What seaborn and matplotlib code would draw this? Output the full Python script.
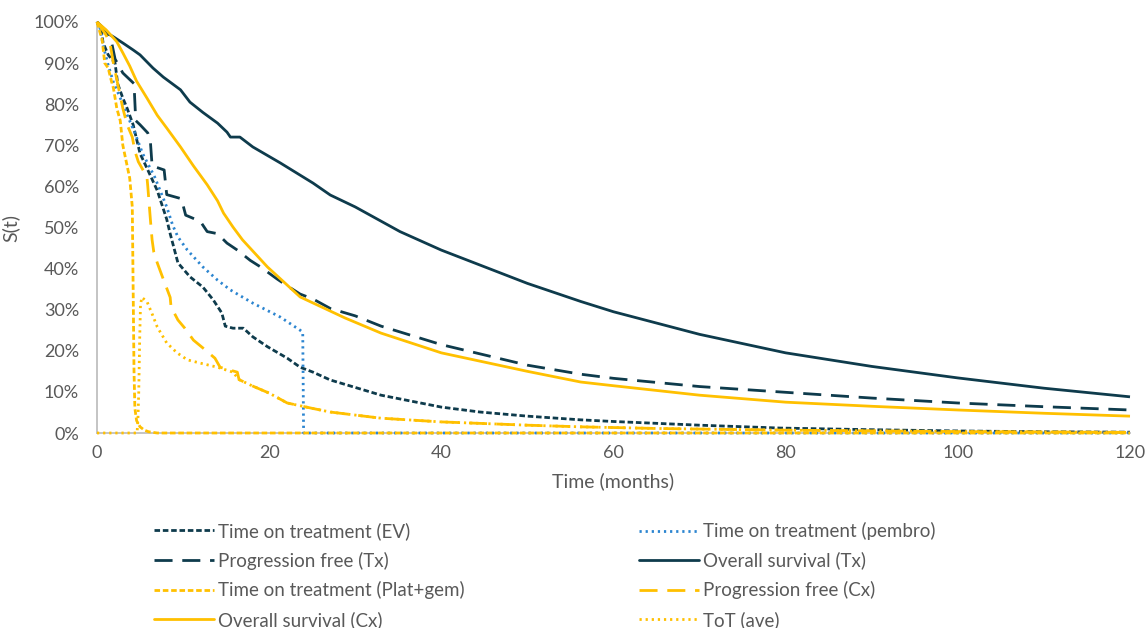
import matplotlib
matplotlib.use("Agg")
import matplotlib.pyplot as plt
import seaborn as sns
import pandas as pd
from matplotlib.lines import Line2D

# ---------------- data (percent survival vs months) ----------------
EV_T = [0, 0.5, 0.7, 1.3, 2.1, 2.4, 3, 3.5, 4.2, 5, 5.9, 7, 8.1, 8.5, 9.4, 10.8, 12.3, 13.5, 14.5, 14.9, 15.8, 17,
        18.1, 19.8, 22.1, 23.6, 25.1, 27.1, 33, 40, 44.5, 50, 56.2, 60, 70, 79.4, 90, 100, 110, 120]
EV_V = [100, 98, 95, 92, 90, 85, 81.5, 79, 75, 68, 64, 59, 52, 48.5, 41.4, 38, 35.5, 32.4, 29.2, 26, 25.5, 25.5,
        23.4, 21, 18.2, 16, 14.8, 12.9, 9.2, 6.3, 5.1, 4.1, 3.2, 2.8, 1.9, 1.2, 0.8, 0.5, 0.3, 0.2]

PEM_T = [0, 0.35, 0.7, 1.3, 1.9, 2.7, 3.5, 4.4, 5.3, 6.7, 8.1, 8.8, 9.4, 10.5, 12.3, 14, 15.5, 18.1, 21.3, 23.6,
         23.9, 24.0, 120]
PEM_V = [100, 98.5, 94.4, 89.5, 85.4, 81.5, 77.4, 73, 68, 62.3, 55, 50.5, 47.7, 44.5, 40.4, 37.2, 34.8, 31.6, 28.2,
         25, 24.5, 0, 0]

PFS_TX_T = [0, 1, 1.7, 2.1, 3, 4.3, 4.5, 5, 5.9, 6.2, 6.4, 7.8, 8.1, 9.8, 10.3, 12, 12.8, 14, 15.1, 16.3, 17.8,
            19, 20.9, 22.1, 23.6, 25.1, 27.1, 30, 33, 40, 50, 56.2, 60, 70, 80, 90, 100, 110, 120]
PFS_TX_V = [100, 98, 95, 91, 87.6, 85, 76, 75, 73, 71, 65, 64, 58, 57, 53, 51.5, 49, 48.5, 46.2, 44.5, 42,
            40.4, 37.5, 35.8, 33.8, 32.6, 30.3, 28.5, 26, 21.5, 16.5, 14.3, 13.3, 11.3, 9.9, 8.5, 7.3, 6.4, 5.6]

OS_TX_T = [0, 1, 1.9, 3, 4.2, 5, 6.5, 7.7, 9.7, 10.8, 12.3, 14, 15.1, 15.5, 16.6, 18.1, 21.3, 25.1, 27.1, 30,
           35.2, 40, 50, 56.2, 60, 70, 80, 90, 100, 110, 120]
OS_TX_V = [100, 97.5, 96.4, 94.9, 93.2, 92, 88.8, 86.6, 83.5, 80.5, 78, 75.4, 73.2, 72, 72, 69.6, 65.7, 60.8, 57.9,
           55, 49, 44.5, 36.4, 32, 29.5, 24, 19.5, 16.2, 13.4, 10.9, 8.8]

PG_T = [0, 0.6, 0.9, 1.3, 1.7, 1.9, 2.3, 2.7, 3.0, 3.3, 3.6, 3.8, 4.1, 4.2, 4.3, 4.4, 4.6, 5.0, 5.5, 6.0, 7.0, 120]
PG_V = [100, 95.6, 90, 88.8, 85.4, 84, 79, 76, 70, 67, 64, 62, 55, 35, 15, 6, 3, 1.5, 0.7, 0.3, 0, 0]

PFS_CX_T = [0, 1, 1.5, 1.9, 2.5, 3, 3.5, 4.1, 4.4, 4.8, 5.8, 5.9, 6.2, 6.4, 6.6, 7, 7.6, 8.5, 8.6, 9.4, 10.2, 11.2,
            12.3, 13.7, 14.3, 16.3, 16.5, 18, 20, 22.1, 25, 27.1, 33, 40, 50, 56.2, 65, 79.4, 100, 120]
PFS_CX_V = [100, 97, 95, 90, 84, 79, 75, 72, 68.6, 66, 62.3, 60, 52, 47, 44, 41.4, 38, 33, 30.7, 27.5, 25.5, 22.6,
            20.7, 18.2, 16, 14.8, 13, 11.5, 9.7, 7.3, 6.0, 5.1, 3.6, 2.7, 1.9, 1.5, 1.1, 0.7, 0.35, 0.15]

OS_CX_T = [0, 1.1, 2.3, 3, 3.8, 4.6, 5.8, 7, 8.1, 9.7, 11.2, 12.8, 14, 14.7, 15.8, 16.9, 19.8, 23.6, 28.8, 33,
           40, 50, 56.2, 60, 70, 80, 90, 100, 110, 120]
OS_CX_V = [100, 98, 95.2, 92.5, 89.3, 85.6, 81.5, 77.3, 74.2, 69.6, 65, 60.4, 56.5, 53.5, 50.1, 47, 40.4, 33.1,
           28, 24.3, 19.5, 15, 12.4, 11.5, 9.2, 7.5, 6.5, 5.6, 4.8, 4.1]

AVE_T = [0, 4.65, 4.75, 4.85, 4.95, 5.05, 5.2, 5.8, 6.4, 7, 8.1, 9.3, 10.5, 12, 14, 15.8, 16.5, 18, 20, 22.1, 25,
         27.1, 33, 40, 50, 56.2, 65, 79.4, 100, 120]
AVE_V = [0, 0, 3, 10, 22, 31, 33, 32, 29, 25.8, 21.9, 19.5, 17.8, 17, 16, 14.8, 13, 11.5, 9.7, 7.3, 6.0,
         5.1, 3.6, 2.7, 1.9, 1.5, 1.1, 0.7, 0.35, 0.15]

X_TICKS = [0, 20, 40, 60, 80, 100, 120]
Y_TICKS = [0, 10, 20, 30, 40, 50, 60, 70, 80, 90, 100]

NAVY = "#0E3B4C"
GOLD = "#FFC000"
BLUE = "#2C85D0"
GREY_TXT = "#595959"

LW = 2.0
SHORT = (2.0, 1.0)
LONG = (6.5, 3.5)
DOT = (0.8, 1.4)

series = [
    ("Time on treatment (EV)", EV_T, EV_V, NAVY, SHORT, LW),
    ("Time on treatment (pembro)", PEM_T, PEM_V, BLUE, DOT, 2.0),
    ("Progression free (Tx)", PFS_TX_T, PFS_TX_V, NAVY, LONG, LW),
    ("Overall survival (Tx)", OS_TX_T, OS_TX_V, NAVY, None, LW),
    ("Time on treatment (Plat+gem)", PG_T, PG_V, GOLD, SHORT, LW),
    ("Progression free (Cx)", PFS_CX_T, PFS_CX_V, GOLD, LONG, LW),
    ("Overall survival (Cx)", OS_CX_T, OS_CX_V, GOLD, None, LW),
    ("ToT (ave)", AVE_T, AVE_V, GOLD, DOT, 2.0),
]

sns.set_theme(style="white")
plt.rcParams["font.family"] = ["Lato", "DejaVu Sans"]

fig = plt.figure(figsize=(11.45, 6.28), dpi=100)
ax = fig.add_axes([97 / 1145, 1 - 433 / 628, (1130 - 97) / 1145, (433 - 22) / 628])

handles = {}
for name, t, v, col, dash, lw in series:
    df = pd.DataFrame({"t": t, "v": v})
    n_before = len(ax.lines)
    sns.lineplot(data=df, x="t", y="v", ax=ax, color=col, linewidth=lw,
                 estimator=None, sort=False, legend=False)
    line = ax.lines[n_before]
    line.set_clip_on(False)
    line.set_zorder(3)
    line.set_solid_capstyle("butt")
    if dash is not None:
        line.set_dashes(dash)
        line.set_dash_capstyle("butt")
    h = Line2D([0], [0], color=col, linewidth=lw)
    if dash is not None:
        h.set_dashes(dash)
    handles[name] = h

ax.set_xlim(0, 120)
ax.set_ylim(0, 100)
ax.set_xticks(X_TICKS)
ax.set_yticks(Y_TICKS)
ax.set_yticklabels([f"{y}%" for y in Y_TICKS])
ax.tick_params(axis="both", length=0, labelsize=13, colors=GREY_TXT)
ax.tick_params(axis="y", pad=13)
ax.tick_params(axis="x", pad=9)
for s in ["top", "right"]:
    ax.spines[s].set_visible(False)
for s in ["left", "bottom"]:
    ax.spines[s].set_color("#BFBFBF")
    ax.spines[s].set_linewidth(1.3)
ax.set_xlabel("Time (months)", fontsize=14, color=GREY_TXT, labelpad=8)
ax.set_ylabel("S(t)", fontsize=14, color=GREY_TXT, labelpad=10)
ax.grid(False)

col1 = ["Time on treatment (EV)", "Progression free (Tx)", "Time on treatment (Plat+gem)", "Overall survival (Cx)"]
col2 = ["Time on treatment (pembro)", "Overall survival (Tx)", "Progression free (Cx)", "ToT (ave)"]

common = dict(frameon=False, fontsize=13.5, handlelength=3.2, handletextpad=0.2, labelspacing=0.62,
              borderpad=0, borderaxespad=0, loc="upper left")
leg1 = fig.legend([handles[n] for n in col1], col1, bbox_to_anchor=(154 / 1145, 1 - 522 / 628), **common)
leg2 = fig.legend([handles[n] for n in col2], col2, bbox_to_anchor=(639 / 1145, 1 - 522 / 628), **common)
for lg in (leg1, leg2):
    for txt in lg.get_texts():
        txt.set_color(GREY_TXT)

fig.savefig("out.png", dpi=100)
